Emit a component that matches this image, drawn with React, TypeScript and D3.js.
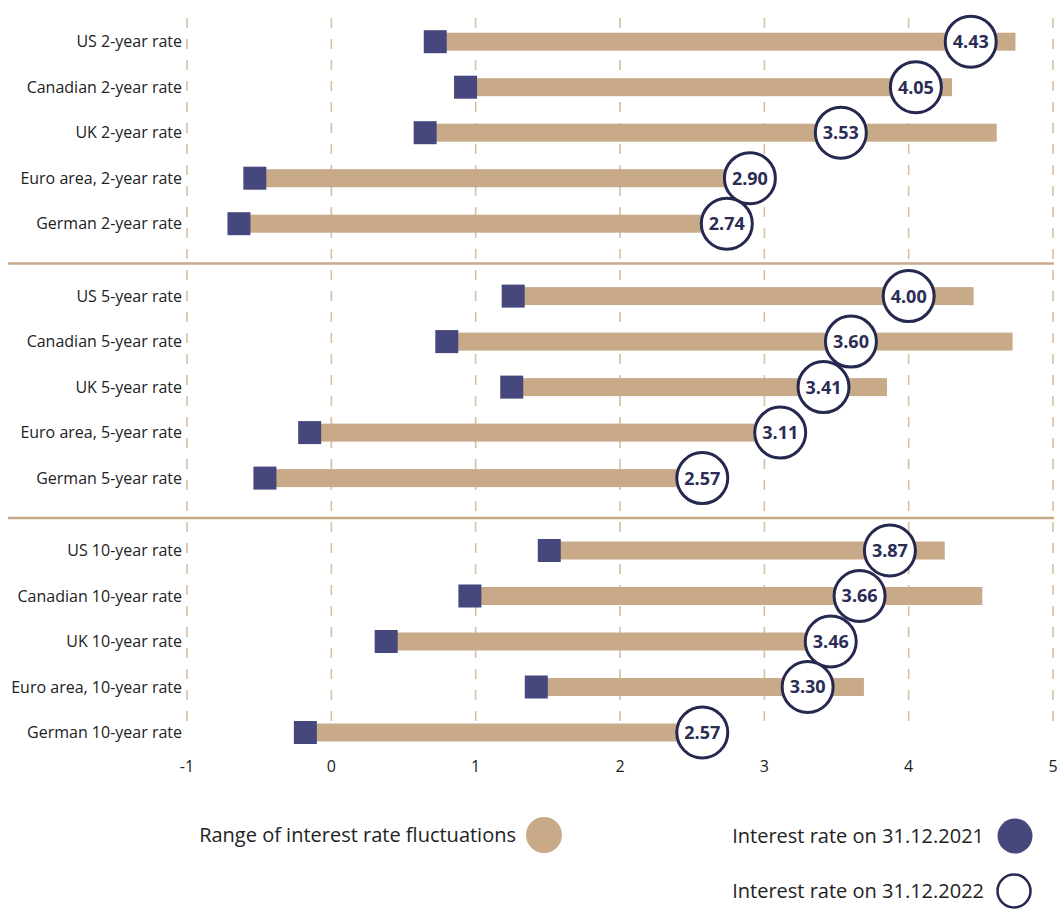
import React, { useEffect, useRef } from 'react';
import * as d3 from 'd3';

const labels = [
  'US 2-year rate', 'Canadian 2-year rate', 'UK 2-year rate', 'Euro area, 2-year rate', 'German 2-year rate',
  'US 5-year rate', 'Canadian 5-year rate', 'UK 5-year rate', 'Euro area, 5-year rate', 'German 5-year rate',
  'US 10-year rate', 'Canadian 10-year rate', 'UK 10-year rate', 'Euro area, 10-year rate', 'German 10-year rate',
];
const rangeMin = [0.72, 0.93, 0.65, -0.53, -0.64, 1.26, 0.80, 1.25, -0.15, -0.46, 1.51, 0.96, 0.38, 1.42, -0.18];
const rangeMax = [4.74, 4.30, 4.61, 2.90, 2.74, 4.45, 4.72, 3.85, 3.11, 2.57, 4.25, 4.51, 3.46, 3.69, 2.57];
const rate2021 = [0.72, 0.93, 0.65, -0.53, -0.64, 1.26, 0.80, 1.25, -0.15, -0.46, 1.51, 0.96, 0.38, 1.42, -0.18];
const rate2022 = [4.43, 4.05, 3.53, 2.90, 2.74, 4.00, 3.60, 3.41, 3.11, 2.57, 3.87, 3.66, 3.46, 3.30, 2.57];
const xTicks = [-1, 0, 1, 2, 3, 4, 5];

const TAN = '#c9aa88';
const NAVY = '#45477d';
const DARK = '#25284f';
const FONT = "'Open Sans', sans-serif";

export default function App() {
  const svgRef = useRef<SVGSVGElement>(null);

  useEffect(() => {
    if (!svgRef.current) return;
    const svg = d3.select(svgRef.current);
    svg.selectAll('*').remove();

    const x = d3.scaleLinear().domain([-1, 5]).range([187, 1053]);
    const sectionY = d3.scaleLinear().domain([0, 2]).range([41.7, 550.5]);
    const rowY = d3.scalePoint<number>().domain(d3.range(5)).range([0, 182]);
    const y = (i: number) => sectionY(Math.floor(i / 5)) + (rowY(i % 5) as number);

    const rows = labels.map((label, i) => ({
      label, lo: rangeMin[i], hi: rangeMax[i], r21: rate2021[i], r22: rate2022[i], y: y(i),
    }));

    // grid
    svg.append('g').selectAll('line').data(xTicks).enter().append('line')
      .attr('x1', d => x(d)).attr('x2', d => x(d))
      .attr('y1', 18).attr('y2', 727)
      .attr('stroke', '#d6bfa3').attr('stroke-width', 1.6)
      .attr('stroke-dasharray', '10,11');

    // section separators
    svg.append('g').selectAll('line').data([1, 2]).enter().append('line')
      .attr('x1', 8).attr('x2', 1054)
      .attr('y1', d => sectionY(d) - 32.5).attr('y2', d => sectionY(d) - 32.5)
      .attr('stroke', TAN).attr('stroke-width', 2.5);

    // range bars
    svg.append('g').selectAll('rect').data(rows).enter().append('rect')
      .attr('x', d => x(d.lo)).attr('width', d => x(d.hi) - x(d.lo))
      .attr('y', d => d.y - 9).attr('height', 18)
      .attr('fill', TAN);

    // 2021 squares
    svg.append('g').selectAll('rect').data(rows).enter().append('rect')
      .attr('x', d => x(d.r21) - 11.5).attr('y', d => d.y - 11.5)
      .attr('width', 23).attr('height', 23)
      .attr('fill', NAVY);

    // 2022 circles
    const circ = svg.append('g').selectAll('g').data(rows).enter().append('g')
      .attr('transform', d => `translate(${x(d.r22)},${d.y})`);
    circ.append('circle').attr('r', 25.5)
      .attr('fill', '#fff').attr('stroke', DARK).attr('stroke-width', 3);
    circ.append('text').text(d => d.r22.toFixed(2))
      .attr('text-anchor', 'middle').attr('dy', '0.36em')
      .attr('font-family', FONT).attr('font-weight', 700).attr('font-size', 18)
      .attr('fill', '#2b2d55');

    // category labels
    svg.append('g').selectAll('text').data(rows).enter().append('text')
      .text(d => d.label)
      .attr('x', 182).attr('y', d => d.y).attr('dy', '0.35em')
      .attr('text-anchor', 'end')
      .attr('font-family', FONT).attr('font-size', 16).attr('fill', '#222');

    // x tick labels
    svg.append('g').selectAll('text').data(xTicks).enter().append('text')
      .text(d => String(d))
      .attr('x', d => x(d)).attr('y', 772)
      .attr('text-anchor', 'middle')
      .attr('font-family', FONT).attr('font-size', 16).attr('fill', '#222');

    // legend
    const legend = svg.append('g').attr('font-family', FONT).attr('font-size', 20).attr('fill', '#222');
    legend.append('text').text('Range of interest rate fluctuations')
      .attr('x', 516).attr('y', 835).attr('dy', '0.35em').attr('text-anchor', 'end');
    legend.append('circle').attr('cx', 544).attr('cy', 835).attr('r', 18).attr('fill', TAN);
    legend.append('text').text('Interest rate on 31.12.2021')
      .attr('x', 984).attr('y', 836).attr('dy', '0.35em').attr('text-anchor', 'end');
    legend.append('circle').attr('cx', 1015).attr('cy', 836).attr('r', 17.5).attr('fill', NAVY);
    legend.append('text').text('Interest rate on 31.12.2022')
      .attr('x', 984).attr('y', 891).attr('dy', '0.35em').attr('text-anchor', 'end');
    legend.append('circle').attr('cx', 1014).attr('cy', 891).attr('r', 16.5)
      .attr('fill', '#fff').attr('stroke', DARK).attr('stroke-width', 2.5);
  }, []);

  return (
    <svg
      ref={svgRef}
      width={1059}
      height={909}
      style={{ position: 'absolute', left: 0, top: 0, display: 'block', background: '#fff' }}
    />
  );
}
